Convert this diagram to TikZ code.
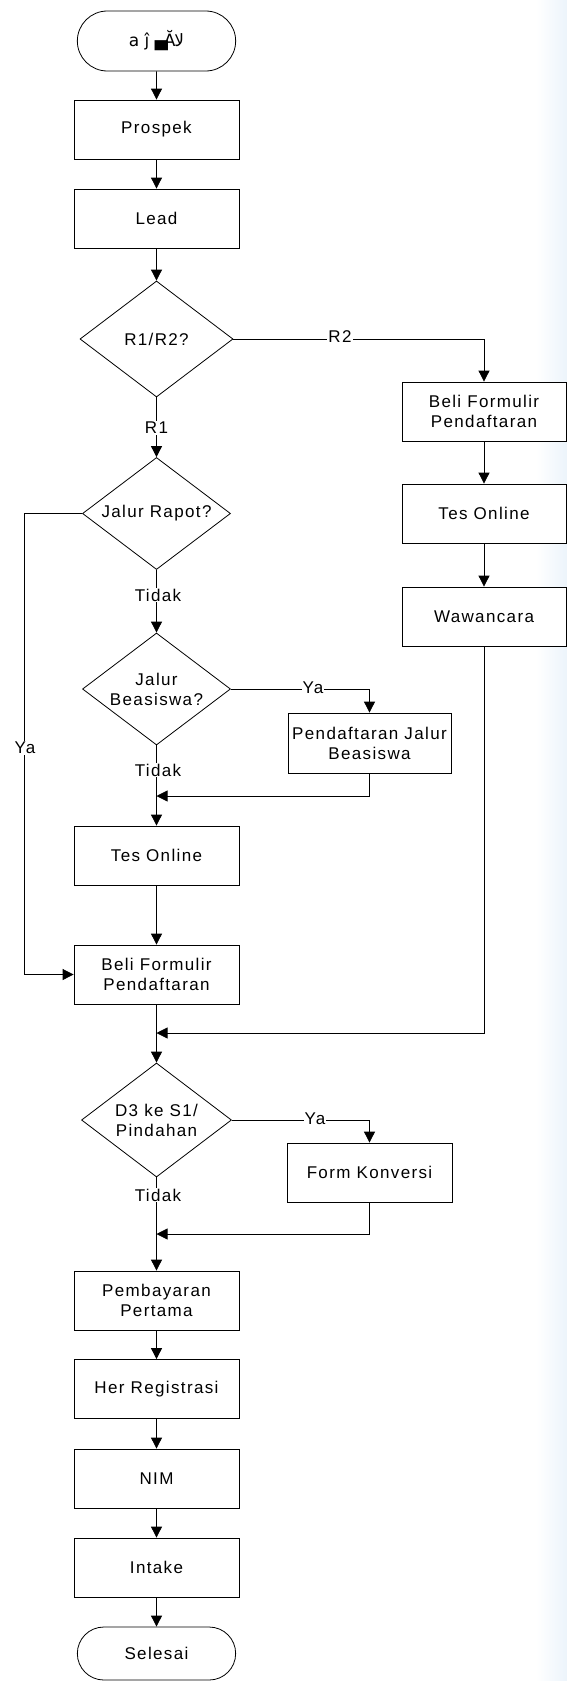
\documentclass[tikz,border=0pt]{standalone}
\usepackage{fontspec}
\usepackage{tikz}
\usetikzlibrary{arrows.meta,shapes.geometric,shapes.misc}
\newfontfamily\chartFont{Liberation Sans}[LetterSpace=8]
\newfontfamily\oddFont{DejaVu Sans}
\definecolor{edgeShade}{RGB}{236,244,251}
\tikzset {
	every node/.style={font=\chartFont\fontsize{17}{20}\selectfont},
	process/.style={rectangle, draw, fill=white, minimum width=165pt, minimum height=59pt, align=center},
	processRight/.style={process, minimum width=164pt},
	terminal/.style={rounded rectangle, draw, fill=white, minimum width=165pt, minimum height=60pt},
	decision/.style={diamond, draw, fill=white, aspect=1.4, inner sep=0pt, align=center,
					minimum width=148pt, minimum height=112pt},
	edgeLabel/.style={fill=white, inner sep=1pt},
	flow/.style={-{Triangle[length=11pt,width=11pt]}}
}

\begin{document}
\begin{tikzpicture}[x=1pt, y=-1pt, line width=0.8pt]
					\useasboundingbox (0,0) rectangle (567,1681);
					\shade[left color=white, right color=edgeShade] (536,0) rectangle (567,1681);
					\node [terminal] (mulai) at (156.5,41) {\oddFont a ĵ ▄\kern-4ptĂ\kern-1ptﻻ};
					\node [process] (prospek) at (156.5,129.5) {Prospek};
					\node [process] (lead) at (156.5,218.5) {Lead};
					\node [decision, minimum width=153pt, minimum height=116pt] (jalurR) at (156.5,339) {R1/R2?};
					\node [decision] (rapot) at (156.5,513.5) {Jalur Rapot?};
					\node [decision] (beasiswa) at (156.5,689) {Jalur\\Beasiswa?};
					\node [process] (tesKiri) at (156.5,855.5) {Tes Online};
					\node [process] (beliKiri) at (156.5,974.5) {Beli Formulir\\Pendaftaran};
					\node [decision, minimum width=150pt, minimum height=114pt] (pindahan) at (156.5,1120) {D3 ke S1/\\Pindahan};
					\node [process] (bayar) at (156.5,1300.5) {Pembayaran\\Pertama};
					\node [process] (herReg) at (156.5,1389) {Her Registrasi};
					\node [process] (nim) at (156.5,1478.5) {NIM};
					\node [process] (intake) at (156.5,1567.5) {Intake};
					\node [terminal, minimum height=53pt] (selesai) at (156.5,1653.5) {Selesai};
					\node [processRight] (beliKanan) at (484,411.5) {Beli Formulir\\Pendaftaran};
					\node [processRight] (tesKanan) at (484,513.5) {Tes Online};
					\node [processRight] (wawancara) at (484,616.5) {Wawancara};
					\node [process, minimum width=163pt, minimum height=60pt] (jalurBeasiswa) at (369.5,743) {Pendaftaran Jalur\\Beasiswa};
					\node [process, minimum width=165pt] (konversi) at (369.5,1172.5) {Form Konversi};
					\coordinate (ya1) at (24,513.5);
					\coordinate (gabung1) at (156.5,796);
					\coordinate (gabung2) at (156.5,1033);
					\coordinate (gabung3) at (156.5,1234);
					\draw [flow] (mulai) -- (prospek);
					\draw [flow] (prospek) -- (lead);
					\draw [flow] (lead) -- (jalurR);
					\draw [flow] (jalurR.east) -| (beliKanan.north);
					\draw [flow] (jalurR.south) -- (rapot.north);
					\draw [flow] (beliKanan) -- (tesKanan);
					\draw [flow] (tesKanan) -- (wawancara);
					\draw [flow] (rapot.west) -- (ya1) |- (beliKiri.west);
					\draw [flow] (rapot.south) -- (beasiswa.north);
					\draw [flow] (beasiswa.east) -| (jalurBeasiswa.north);
					\draw [flow] (beasiswa.south) -- (tesKiri.north);
					\draw [flow] (jalurBeasiswa.south) |- (gabung1);
					\draw [flow] (tesKiri) -- (beliKiri);
					\draw [flow] (beliKiri.south) -- (pindahan.north);
					\draw [flow] (wawancara.south) |- (gabung2);
					\draw [flow] (pindahan.east) -| (konversi.north);
					\draw [flow] (pindahan.south) -- (bayar.north);
					\draw [flow] (konversi.south) |- (gabung3);
					\draw [flow] (bayar) -- (herReg);
					\draw [flow] (herReg) -- (nim);
					\draw [flow] (nim) -- (intake);
					\draw [flow] (intake) -- (selesai);
					\node [edgeLabel] (labelR2) at (340,337) {R2};
					\node [edgeLabel] (labelR1) at (156.5,428) {R1};
					\node [edgeLabel] (labelTidak1) at (158,595) {Tidak};
					\node [edgeLabel] (labelYa1) at (25,748) {Ya};
					\node [edgeLabel] (labelYa2) at (313,688) {Ya};
					\node [edgeLabel] (labelTidak2) at (158,770) {Tidak};
					\node [edgeLabel] (labelYa3) at (315,1119) {Ya};
					\node [edgeLabel] (labelTidak3) at (158,1195) {Tidak};
\end{tikzpicture}
\end{document}
